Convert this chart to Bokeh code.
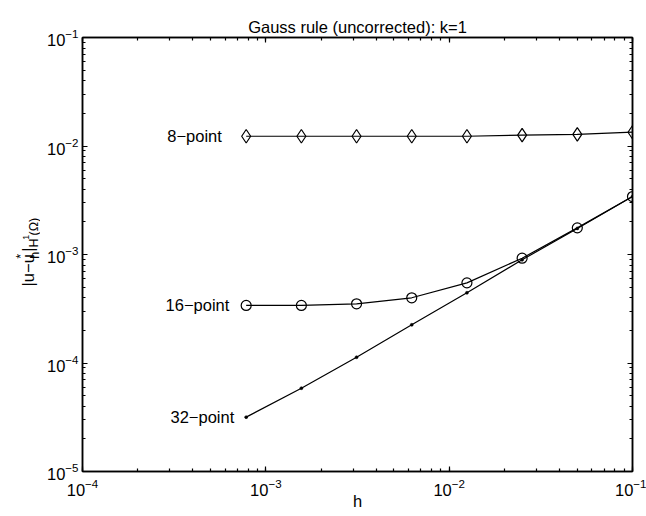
import math
from bokeh.plotting import figure
from bokeh.layouts import row
from bokeh.models import (Range1d, LogAxis, LogTicker, Label, ColumnDataSource,
                          CustomJSTickFormatter)
from bokeh.core.properties import value
from bokeh.embed import file_html
from bokeh.resources import INLINE

# ---- data ----
h = [0.00078125, 0.0015625, 0.003125, 0.00625, 0.0125, 0.025, 0.05, 0.1]
err_8 = [0.0123, 0.0123, 0.0123, 0.0123, 0.0123, 0.0126, 0.0128, 0.0134]
err_16 = [3.39e-4, 3.39e-4, 3.51e-4, 3.99e-4, 5.48e-4, 9.24e-4, 1.76e-3, 3.42e-3]
err_32 = [3.17e-5, 5.86e-5, 1.13e-4, 2.25e-4, 4.44e-4, 8.93e-4, 1.74e-3, 3.42e-3]
series_names = ["8\u2212point", "16\u2212point", "32\u2212point"]
label_x = [2.90e-4, 2.84e-4, 3.02e-4]

title_text = "Gauss rule (uncorrected): k=1"
x_label = "h"
y_label_parts = ["|u\u2212u", "*", "h", "|", "H", "1", "(\u03a9)"]
x_ticks = [1e-4, 1e-3, 1e-2, 1e-1]
y_ticks = [1e-5, 1e-4, 1e-3, 1e-2, 1e-1]

FONT = "Liberation Sans"
FS = "16.5px"
W, H = 646, 516
LEFT_W = 40

# ---- main plot ----
p = figure(width=W - LEFT_W, height=H, x_axis_type="log", y_axis_type="log",
           x_range=Range1d(1e-4, 1e-1), y_range=Range1d(1e-5, 1e-1),
           output_backend="svg", toolbar_location=None,
           min_border_left=82 - LEFT_W, min_border_right=14, min_border_top=37,
           min_border_bottom=45, background_fill_color="white",
           border_fill_color="white")

p.title.text = title_text
p.title.align = "center"
p.title.text_font = FONT
p.title.text_font_size = FS
p.title.text_font_style = "normal"
p.title.text_color = "black"
p.title.standoff = 4

p.xgrid.visible = False
p.ygrid.visible = False
p.outline_line_color = "black"
p.outline_line_width = 1.5


def style_axis(ax, ticks, standoff, labels=True):
    ax.ticker = LogTicker(num_minor_ticks=10)
    ax.ticker.desired_num_ticks = len(ticks)
    ax.axis_line_color = "black"
    ax.axis_line_width = 1.5
    ax.major_tick_in = 5
    ax.major_tick_out = 0
    ax.minor_tick_in = 3
    ax.minor_tick_out = 0
    ax.major_tick_line_color = "black"
    ax.minor_tick_line_color = "black"
    ax.major_tick_line_width = 1.2
    ax.minor_tick_line_width = 1.2
    ax.major_label_text_font = FONT
    ax.major_label_text_font_size = FS
    ax.major_label_text_color = "black"
    ax.major_label_standoff = standoff
    if not labels:
        ax.formatter = CustomJSTickFormatter(code="return ''")
        ax.major_label_standoff = 0


style_axis(p.xaxis[0], x_ticks, 7)
style_axis(p.yaxis[0], y_ticks, 4)
p.xaxis[0].axis_label = x_label
p.xaxis[0].axis_label_text_font = FONT
p.xaxis[0].axis_label_text_font_size = FS
p.xaxis[0].axis_label_text_font_style = "normal"
p.xaxis[0].axis_label_text_color = "black"
p.xaxis[0].axis_label_standoff = -7

top_ax = LogAxis()
right_ax = LogAxis()
style_axis(top_ax, x_ticks, 0, labels=False)
style_axis(right_ax, y_ticks, 0, labels=False)
p.add_layout(top_ax, "above")
p.add_layout(right_ax, "right")

# ---- series ----
src8 = ColumnDataSource(dict(h=h, e=err_8))
src16 = ColumnDataSource(dict(h=h, e=err_16))
src32 = ColumnDataSource(dict(h=h, e=err_32))

for src in (src8, src16, src32):
    p.line("h", "e", source=src, line_color="black", line_width=1.2)

p.scatter("h", "e", source=src8, marker="diamond", size=13.5,
          fill_color=None, line_color="black", line_width=1.2)
p.scatter("h", "e", source=src16, marker="circle", size=10,
          fill_color=None, line_color="black", line_width=1.2)
p.scatter("h", "e", source=src32, marker="circle", size=3,
          fill_color="black", line_color="black", line_width=0.5)

lab_src = ColumnDataSource(dict(x=label_x, y=[err_8[0], err_16[0], err_32[0]],
                                t=series_names))
p.text("x", "y", text="t", source=lab_src, text_font=value(FONT),
       text_font_size=FS, text_align="left", text_baseline="middle",
       text_color="black")

# ---- y label panel (rotated text with sub/superscripts) ----
yl = figure(width=LEFT_W, height=H, x_range=Range1d(0, LEFT_W),
            y_range=Range1d(H, 0), output_backend="svg",
            toolbar_location=None, x_axis_location=None,
            y_axis_location=None, min_border=0, outline_line_color=None,
            background_fill_color="white", border_fill_color="white")
yl.xgrid.visible = False
yl.ygrid.visible = False

yl_x = [27.7, 20.2, 34.0, 27.7, 33.0, 25.8, 33.0]
yl_y = [296, 263.2, 263.2, 254.8, 249.8, 240.6, 235.4]
yl_fs = ["16.5px", "12.5px", "12.5px", "16.5px", "12.5px", "9px", "12.5px"]
for t, xx, yy, fs in zip(y_label_parts, yl_x, yl_y, yl_fs):
    yl.add_layout(Label(x=xx, y=yy, text=t, angle=math.pi / 2,
                        text_font=FONT, text_font_size=fs, text_align="left",
                        text_baseline="alphabetic", text_color="black"))

layout = row(yl, p)
open("out.html", "w").write(file_html(layout, INLINE))
